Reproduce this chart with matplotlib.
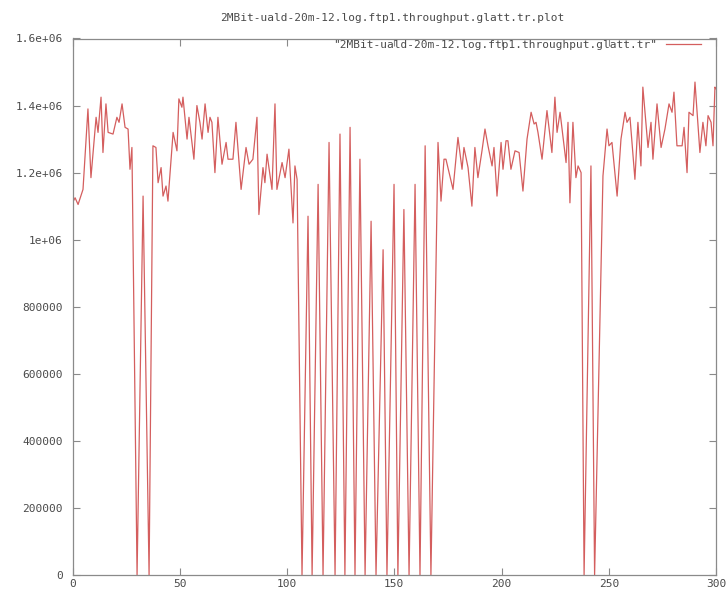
import matplotlib
matplotlib.use("Agg")
import matplotlib.pyplot as plt

# Throughput samples (time, bytes/s) of ftp1 from the smoothed trace
time_s = [
    0.0, 1.2, 2.6, 4.9, 7.2, 8.6, 11.0, 11.9, 13.3, 14.2, 15.6, 16.6, 18.9, 20.7,
    21.7, 23.1, 24.5, 25.9, 26.8, 27.7, 30.1, 32.9, 35.7, 37.5, 38.9, 39.9, 41.3,
    42.2, 43.6, 44.5, 46.9, 48.7, 49.6, 51.0, 51.5, 53.4, 54.3, 56.6, 58.0, 59.4,
    60.4, 61.8, 63.2, 64.1, 65.0, 66.4, 67.8, 69.7, 71.6, 72.5, 74.8, 76.2, 78.6,
    80.9, 82.3, 84.1, 86.0, 86.9, 88.8, 89.7, 90.7, 93.0, 94.4, 95.3, 97.7, 99.1,
    100.9, 102.8, 103.7, 104.7, 107.0, 109.8, 111.7, 114.5, 116.8, 119.6, 122.4,
    124.7, 127.0, 129.4, 131.7, 134.0, 136.4, 139.2, 141.5, 144.8, 146.6, 149.9,
    151.7, 154.5, 156.9, 159.7, 162.0, 164.4, 167.1, 170.4, 171.8, 173.2, 174.1,
    177.4, 179.7, 181.6, 182.5, 184.4, 186.2, 187.6, 189.0, 190.9, 192.3, 193.7,
    195.6, 196.5, 197.9, 199.8, 200.7, 202.1, 203.0, 204.4, 206.3, 208.2, 210.0,
    211.9, 213.8, 215.2, 216.1, 217.0, 218.9, 221.2, 223.5, 224.9, 225.9, 227.3,
    228.7, 230.1, 231.0, 231.9, 233.3, 234.7, 235.7, 237.1, 238.5, 241.7, 243.4,
    247.3, 249.2, 250.1, 251.5, 253.9, 255.7, 257.6, 258.5, 259.9, 262.2, 263.6,
    265.0, 265.9, 268.3, 269.7, 270.6, 272.5, 274.4, 276.2, 278.1, 279.5, 280.4,
    281.8, 284.2, 285.1, 286.5, 287.4, 289.3, 290.2, 292.5, 293.9, 295.3, 296.3,
    297.7, 298.6, 299.5, 300.0,
]
throughput = [
    1110000, 1125000, 1105000, 1150000, 1390000, 1185000, 1365000, 1320000,
    1425000, 1260000, 1405000, 1320000, 1315000, 1365000, 1350000, 1405000,
    1335000, 1330000, 1210000, 1275000, 0, 1130000, 0, 1280000, 1275000,
    1170000, 1215000, 1130000, 1160000, 1115000, 1320000, 1265000, 1420000,
    1395000, 1425000, 1300000, 1365000, 1240000, 1400000, 1350000, 1300000,
    1405000, 1320000, 1365000, 1350000, 1200000, 1365000, 1225000, 1290000,
    1240000, 1240000, 1350000, 1150000, 1275000, 1225000, 1240000, 1365000,
    1075000, 1215000, 1170000, 1255000, 1150000, 1405000, 1150000, 1230000,
    1185000, 1270000, 1050000, 1220000, 1180000, 0, 1070000, 0, 1165000, 0,
    1290000, 0, 1315000, 0, 1335000, 0, 1240000, 0, 1055000, 0, 970000, 0,
    1165000, 0, 1090000, 0, 1165000, 0, 1280000, 0, 1290000, 1115000, 1240000,
    1240000, 1150000, 1305000, 1210000, 1275000, 1215000, 1100000, 1275000,
    1185000, 1265000, 1330000, 1280000, 1220000, 1275000, 1130000, 1290000,
    1210000, 1295000, 1295000, 1210000, 1265000, 1260000, 1145000, 1300000,
    1380000, 1345000, 1350000, 1320000, 1240000, 1385000, 1260000, 1425000,
    1320000, 1380000, 1305000, 1230000, 1350000, 1110000, 1350000, 1185000,
    1220000, 1200000, 0, 1220000, 0, 1190000, 1330000, 1280000, 1290000,
    1130000, 1300000, 1380000, 1350000, 1365000, 1180000, 1350000, 1220000,
    1455000, 1275000, 1350000, 1240000, 1405000, 1275000, 1330000, 1405000,
    1380000, 1440000, 1280000, 1280000, 1335000, 1200000, 1380000, 1370000,
    1470000, 1260000, 1350000, 1280000, 1370000, 1350000, 1280000, 1455000,
    1450000,
]

x_ticks = [0, 50, 100, 150, 200, 250, 300]
y_ticks = [0, 200000, 400000, 600000, 800000, 1000000, 1200000, 1400000, 1600000]
y_tick_labels = ["0", "200000", "400000", "600000", "800000",
                 "1e+06", "1.2e+06", "1.4e+06", "1.6e+06"]

title = "2MBit-uald-20m-12.log.ftp1.throughput.glatt.tr.plot"
series_name = '"2MBit-uald-20m-12.log.ftp1.throughput.glatt.tr"'

plt.rcParams["font.family"] = ["DejaVu Sans Mono"]
text_color = "#4a4a4a"
frame_color = "#8a8a8a"
fs = 8.0

fig = plt.figure(figsize=(7.28, 5.92), dpi=100)
ax = fig.add_axes([72.5 / 728, 17 / 592, 643.5 / 728, 536.5 / 592])

ax.plot(time_s, throughput, color="#d45e5e", lw=0.9, label=series_name)

ax.set_xlim(0, 300)
ax.set_ylim(0, 1600000)
ax.set_xticks(x_ticks)
ax.set_xticklabels([str(t) for t in x_ticks])
ax.set_yticks(y_ticks)
ax.set_yticklabels(y_tick_labels)

ax.tick_params(direction="in", length=5, width=0.8, top=True, right=True,
               color=frame_color, labelcolor=text_color, labelsize=fs)
ax.tick_params(axis="y", pad=7)
ax.tick_params(axis="x", pad=3)
for sp in ax.spines.values():
    sp.set_color(frame_color)
    sp.set_linewidth(0.9)

fig.text(392 / 728, 1 - 18 / 592, title, ha="center", va="center",
         fontsize=fs, color=text_color)

leg = ax.legend(loc="upper right", bbox_to_anchor=(0.977, 0.997),
                markerfirst=False, frameon=False, fontsize=fs,
                handlelength=3.2, handletextpad=0.8,
                borderpad=0, borderaxespad=0)
for t in leg.get_texts():
    t.set_color(text_color)

fig.savefig("out.png", dpi=100, facecolor="white")
